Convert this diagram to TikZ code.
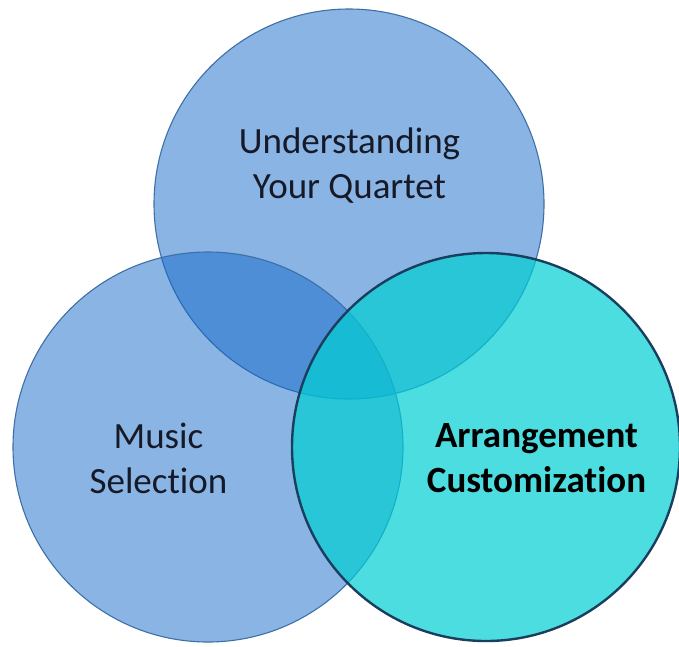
\documentclass[tikz,border=0pt]{standalone}
\usepackage{fontspec}
\setmainfont[Ligatures={NoCommon,NoRequired}]{Carlito}
\definecolor{bluefill}{RGB}{20,105,200}
\definecolor{blueline}{RGB}{62,112,168}
\definecolor{cyanfill}{RGB}{0,206,211}
\definecolor{cyanline}{RGB}{26,62,94}
\definecolor{txt}{RGB}{22,26,40}
\tikzset{
  bluecirc/.style={circle, fill=bluefill, fill opacity=0.5, draw=blueline, draw opacity=1, line width=1.1pt, inner sep=0pt},
  cyancirc/.style={circle, fill=cyanfill, fill opacity=0.7, draw=cyanline, draw opacity=1, line width=2.4pt, inner sep=0pt},
  label/.style={align=center, text=txt, text opacity=1, font=\fontsize{37}{45}\selectfont, inner sep=0pt}
}
\begin{document}
\begin{tikzpicture}[x=1pt,y=-1pt]
\useasboundingbox (0,0) rectangle (679,646);
\node[bluecirc, minimum size=390pt] (top) at (349,204) {};
\node[bluecirc, minimum size=390pt] (left) at (208,447) {};
\node[cyancirc, minimum size=388pt] (right) at (486,447) {};
\node[label] (tl) at (349.5,166) {Understanding\\Your Quartet};
\node[label] (ll) at (158.5,458) {Music\\Selection};
\node[label, font=\fontsize{37}{45}\selectfont\bfseries, text=black] (rl) at (536.5,458) {Arrangement\\Customization};
\end{tikzpicture}
\end{document}
